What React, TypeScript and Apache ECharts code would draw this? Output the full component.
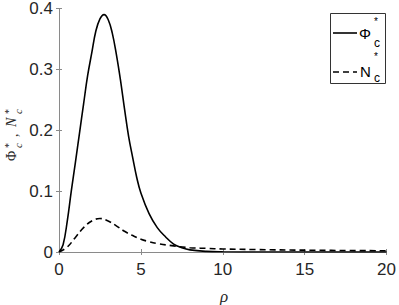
import React, { useEffect, useRef } from "react";
import * as echarts from "echarts";

const rhoPhi = [0, 0.25, 0.5, 0.75, 1, 1.25, 1.5, 1.75, 2, 2.25, 2.5, 2.75, 3, 3.25, 3.5, 3.75, 4, 4.25, 4.5, 4.75, 5, 5.5, 6, 6.5, 7, 7.5, 8, 9, 10, 12, 15, 20];
const phiC = [0, 0.012, 0.05, 0.1, 0.147, 0.195, 0.243, 0.29, 0.327, 0.363, 0.383, 0.39, 0.382, 0.36, 0.325, 0.283, 0.235, 0.19, 0.155, 0.122, 0.097, 0.063, 0.04, 0.025, 0.013, 0.007, 0.0035, 0.001, 0.0003, 0, 0, 0];
const rhoN = [0, 0.5, 1, 1.5, 2, 2.5, 3, 3.5, 4, 4.5, 5, 5.5, 6, 7, 8, 9, 10, 12, 15, 20];
const nC = [0, 0.008, 0.024, 0.04, 0.051, 0.055, 0.051, 0.043, 0.034, 0.027, 0.021, 0.017, 0.014, 0.01, 0.007, 0.006, 0.005, 0.004, 0.003, 0.002];
const xTicks = [0, 5, 10, 15, 20];
const yTicks = [0, 0.1, 0.2, 0.3, 0.4];

const FRAME = "#8a8a8a";
const TXT = "#262626";
const SANS = "Liberation Sans, Arial, sans-serif";
const SERIF = "Liberation Serif, Times New Roman, serif";

export default function App() {
  const ref = useRef<HTMLDivElement>(null);
  useEffect(() => {
    const chart = echarts.init(ref.current!, null, { renderer: "svg" });
    const axisCommon = {
      type: "value" as const,
      axisLine: { show: true, lineStyle: { color: FRAME, width: 1 } },
      axisTick: { show: true, inside: true, length: 3, lineStyle: { color: FRAME } },
      splitLine: { show: false },
    };
    chart.setOption({
      animation: false,
      grid: { left: 59, right: 10, top: 7, bottom: 53, containLabel: false },
      xAxis: [
        {
          ...axisCommon,
          position: "bottom",
          min: xTicks[0],
          max: xTicks[xTicks.length - 1],
          interval: 5,
          axisLabel: { color: TXT, fontSize: 17, fontFamily: SANS, margin: 9 },
        },
        {
          ...axisCommon,
          position: "top",
          min: xTicks[0],
          max: xTicks[xTicks.length - 1],
          interval: 5,
          axisLabel: { show: false },
        },
      ],
      yAxis: [
        {
          ...axisCommon,
          position: "left",
          min: yTicks[0],
          max: yTicks[yTicks.length - 1],
          interval: 0.1,
          axisLabel: { color: TXT, fontSize: 17, fontFamily: SANS, margin: 6, formatter: (v: number) => (v === 0 ? "0" : v.toFixed(1)) },
        },
        {
          ...axisCommon,
          position: "right",
          min: yTicks[0],
          max: yTicks[yTicks.length - 1],
          interval: 0.1,
          axisLabel: { show: false },
        },
      ],
      series: [
        {
          name: "Phi",
          type: "line",
          smooth: 0.4,
          symbol: "none",
          data: rhoPhi.map((r, i) => [r, phiC[i]]),
          lineStyle: { color: "#000", width: 1.6 },
        },
        {
          name: "N",
          type: "line",
          smooth: 0.4,
          symbol: "none",
          data: rhoN.map((r, i) => [r, nC[i]]),
          lineStyle: { color: "#000", width: 1.6, type: [6, 4] },
        },
      ],
      graphic: [
        // legend
        { type: "rect", shape: { x: 330.5, y: 13.5, width: 55, height: 70 }, style: { fill: "#fff", stroke: "#333", lineWidth: 1 } },
        { type: "line", shape: { x1: 333, y1: 33, x2: 357, y2: 33 }, style: { stroke: "#000", lineWidth: 1.6 } },
        { type: "text", x: 359, y: 33, style: { text: "Φ", font: `15px ${SANS}`, fill: "#000", verticalAlign: "middle" } },
        { type: "text", x: 374, y: 21, style: { text: "*", font: `10px ${SANS}`, fill: "#000", verticalAlign: "middle" } },
        { type: "text", x: 374, y: 43, style: { text: "c", font: `12px ${SANS}`, fill: "#000", verticalAlign: "middle" } },
        { type: "line", shape: { x1: 333, y1: 72, x2: 357, y2: 72 }, style: { stroke: "#000", lineWidth: 1.6, lineDash: [6, 4] } },
        { type: "text", x: 360, y: 71, style: { text: "N", font: `15px ${SANS}`, fill: "#000", verticalAlign: "middle" } },
        { type: "text", x: 374, y: 56, style: { text: "*", font: `10px ${SANS}`, fill: "#000", verticalAlign: "middle" } },
        { type: "text", x: 374, y: 78, style: { text: "c", font: `12px ${SANS}`, fill: "#000", verticalAlign: "middle" } },
        // y-axis label
        {
          type: "group",
          x: 11,
          y: 161,
          rotation: Math.PI / 2,
          children: [
            { type: "text", x: 0, y: 0, style: { text: "Φ", font: `14px ${SERIF}`, fill: TXT, verticalAlign: "middle" } },
            { type: "text", x: 13, y: -3, style: { text: "*", font: `10px ${SERIF}`, fill: TXT, verticalAlign: "middle" } },
            { type: "text", x: 13, y: 7, style: { text: "c", font: `italic 11px ${SERIF}`, fill: TXT, verticalAlign: "middle" } },
            { type: "text", x: 24, y: 2, style: { text: ",", font: `14px ${SERIF}`, fill: TXT, verticalAlign: "middle" } },
            { type: "text", x: 34, y: 0, style: { text: "N", font: `italic 14px ${SERIF}`, fill: TXT, verticalAlign: "middle" } },
            { type: "text", x: 47, y: -3, style: { text: "*", font: `10px ${SERIF}`, fill: TXT, verticalAlign: "middle" } },
            { type: "text", x: 47, y: 7, style: { text: "c", font: `italic 11px ${SERIF}`, fill: TXT, verticalAlign: "middle" } },
          ],
        },
        // x-axis label
        { type: "text", x: 224, y: 296, style: { text: "ρ", font: `italic 17px ${SERIF}`, fill: TXT, align: "center", verticalAlign: "middle" } },
      ],
    });
    return () => chart.dispose();
  }, []);
  return <div ref={ref} style={{ width: 399, height: 305, position: "absolute", left: 0, top: 0 }} />;
}
